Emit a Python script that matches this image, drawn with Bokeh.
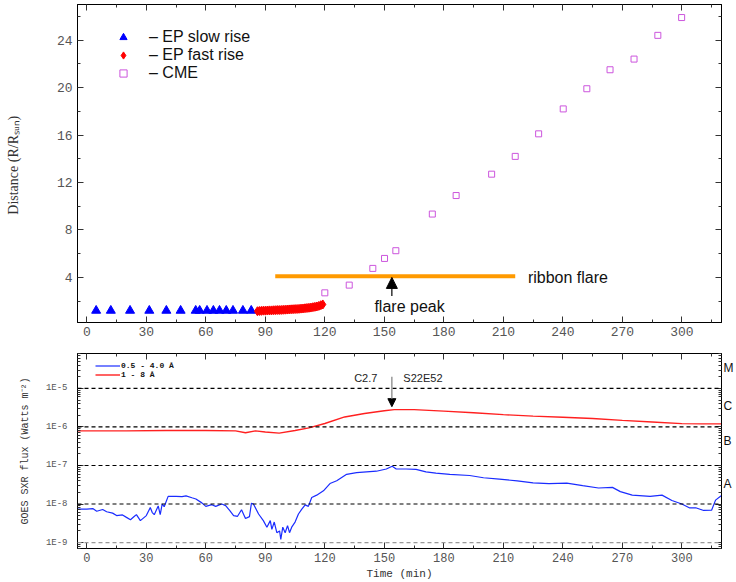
from bokeh.plotting import figure
from bokeh.models import (Range1d, LinearAxis, LogAxis, FixedTicker, Span, Label,
                          Arrow, NormalHead, Legend, LegendItem, CustomJSTickFormatter)
from bokeh.layouts import column
from bokeh.embed import file_html
from bokeh.resources import INLINE

# ---------------- data: top panel (distance vs time) ----------------
ep_slow_t = [4.7, 12.1, 21.8, 31.5, 40.1, 47.3, 54.9, 56.9, 60.6, 63.8, 66.9, 70.3, 73.7, 78.7, 82.9]
ep_slow_d = [1.2, 1.2, 1.2, 1.2, 1.2, 1.2, 1.2, 1.2, 1.2, 1.2, 1.2, 1.2, 1.2, 1.2, 1.2]

ep_fast_t = [86, 87, 88, 89, 90, 91, 92, 93, 94, 95, 96, 97, 98, 99, 100, 101, 102,
             103, 104, 105, 106, 107, 108, 109, 110, 111, 112, 113, 114, 115, 116, 117, 118, 119]
ep_fast_d = [1.15, 1.17, 1.18, 1.2, 1.2, 1.21, 1.22, 1.22, 1.23, 1.24, 1.25, 1.25, 1.26, 1.27,
             1.28, 1.29, 1.3, 1.31, 1.32, 1.33, 1.34, 1.35, 1.37, 1.38, 1.4, 1.42, 1.44, 1.46,
             1.49, 1.52, 1.55, 1.6, 1.66, 1.72]

cme_t = [120.0, 132.3, 144.2, 150.1, 155.8, 174.2, 186.2, 204.1, 216.0, 227.8, 240.2,
         252.1, 263.8, 275.9, 287.9, 299.9]
cme_d = [2.7, 3.35, 4.76, 5.6, 6.25, 9.34, 10.9, 12.7, 14.2, 16.1, 18.2, 19.9, 21.5,
         22.4, 24.4, 25.9]

ribbon_t = [95, 216]
ribbon_d = [4.1, 4.1]
flare_peak_t = 153.8

# ---------------- data: bottom panel (GOES SXR flux) ----------------
goes_short_t = [-5, 0, 3, 5, 8, 10, 13, 15, 18, 20, 22, 24, 25, 27, 30, 32, 33, 34, 36, 37,
                38, 39, 41, 45, 48, 50, 53, 55, 58, 60, 63, 65, 68, 70, 72, 74, 76, 78, 80,
                82, 83, 84, 86.6, 89, 90.8, 92.5, 93.3, 94.5, 95.8, 97.2, 97.8, 98.8, 100,
                101.2, 102.2, 103.3, 105, 106.7, 108.4, 110.1, 111.7, 113.4, 115.9, 119.3,
                122.6, 126, 131, 136, 141, 146, 151, 154, 156, 161, 166, 171, 176, 183,
                193, 200, 208, 217, 225, 233, 242, 250, 258, 265, 269, 275, 284, 290, 295,
                300, 304, 307, 311, 315, 317, 320]
goes_short_f = [7.4e-9, 7.4e-9, 7.6e-9, 6.5e-9, 7.2e-9, 6.3e-9, 5.8e-9, 5.0e-9, 5.2e-9,
                4.5e-9, 3.9e-9, 4.8e-9, 5.3e-9, 3.7e-9, 5.0e-9, 8.1e-9, 6.0e-9, 5.3e-9,
                8.9e-9, 5.3e-9, 1.0e-8, 8.5e-9, 1.58e-8, 1.58e-8, 1.55e-8, 1.62e-8, 1.45e-8,
                1.35e-8, 1.07e-8, 8.7e-9, 9.6e-9, 8.7e-9, 1.0e-8, 9.1e-9, 6.8e-9, 5.0e-9,
                4.8e-9, 7.1e-9, 4.2e-9, 4.7e-9, 1.05e-8, 1.0e-8, 5.5e-9, 3.7e-9, 2.5e-9,
                3.7e-9, 2.2e-9, 3.4e-9, 1.8e-9, 2.0e-9, 1.2e-9, 2.5e-9, 1.8e-9, 2.75e-9,
                1.8e-9, 2.5e-9, 3.4e-9, 5.5e-9, 7.4e-9, 9.5e-9, 8.7e-9, 1.48e-8, 1.7e-8,
                2.2e-8, 3.4e-8, 4.0e-8, 5.9e-8, 6.5e-8, 6.8e-8, 7.1e-8, 8.1e-8, 9.6e-8,
                8.1e-8, 8.1e-8, 7.9e-8, 6.8e-8, 6.3e-8, 5.9e-8, 5.5e-8, 4.8e-8, 4.4e-8,
                4.0e-8, 3.55e-8, 3.4e-8, 3.5e-8, 3.0e-8, 2.6e-8, 2.7e-8, 2.1e-8, 1.7e-8,
                1.58e-8, 1.7e-8, 1.23e-8, 1.0e-8, 7.9e-9, 8.0e-9, 6.8e-9, 6.9e-9, 1.26e-8,
                1.66e-8]

goes_long_t = [-5, 0, 20, 40, 60, 75, 80, 85, 90, 97, 105, 112, 120, 130, 140, 150, 155,
               165, 180, 195, 210, 225, 240, 255, 270, 285, 300, 310, 320]
goes_long_f = [7.9e-7, 7.9e-7, 7.9e-7, 8.1e-7, 8.1e-7, 7.9e-7, 7.1e-7, 7.9e-7, 7.4e-7,
               6.9e-7, 8.1e-7, 9.5e-7, 1.23e-6, 1.82e-6, 2.24e-6, 2.63e-6, 2.82e-6, 2.82e-6,
               2.57e-6, 2.34e-6, 2.09e-6, 1.91e-6, 1.78e-6, 1.66e-6, 1.48e-6, 1.35e-6,
               1.22e-6, 1.2e-6, 1.2e-6]

flux_levels = [1e-5, 1e-6, 1e-7, 1e-8, 1e-9]
class_labels = ["M", "C", "B", "A"]
class_y = [3.4e-5, 3.5e-6, 4.3e-7, 3.3e-8]

x_major = [0, 30, 60, 90, 120, 150, 180, 210, 240, 270, 300]
x_minor = [15, 45, 75, 105, 135, 165, 195, 225, 255, 285, 315]

TICK_FONT = "Liberation Mono"
TICK_COLOR = "#555555"


def style_axis(ax, font_size, show_labels=True):
    ax.axis_line_color = "black"
    ax.major_tick_line_color = "#333333"
    ax.minor_tick_line_color = "#333333"
    ax.major_tick_in = 6
    ax.major_tick_out = 0
    ax.minor_tick_in = 3
    ax.minor_tick_out = 0
    ax.major_label_text_font = TICK_FONT
    ax.major_label_text_color = TICK_COLOR
    ax.major_label_text_font_size = font_size
    if not show_labels:
        ax.major_label_standoff = 0
        ax.axis_label = None
        ax.formatter = CustomJSTickFormatter(code="return '';")


# ---------------- top figure ----------------
p1 = figure(width=736, height=346, x_range=Range1d(-4.7, 320), y_range=Range1d(0.2, 27),
            output_backend="svg", toolbar_location=None,
            min_border_left=77, min_border_right=14, min_border_top=4, min_border_bottom=24)
p1.xgrid.visible = False
p1.ygrid.visible = False
p1.outline_line_color = "black"
p1.background_fill_color = "white"

p1.xaxis.ticker = FixedTicker(ticks=x_major, minor_ticks=x_minor)
p1.yaxis.ticker = FixedTicker(ticks=[4, 8, 12, 16, 20, 24], minor_ticks=[2, 6, 10, 14, 18, 22, 26])
for ax in p1.xaxis:
    style_axis(ax, "13px")
    ax.major_label_standoff = 4
for ax in p1.yaxis:
    style_axis(ax, "13px")
    ax.major_label_standoff = 5
    ax.axis_label = "Distance  (R/R\u209b\u1d64\u2099)"
    ax.axis_label_text_font = "Liberation Serif"
    ax.axis_label_text_font_style = "normal"
    ax.axis_label_text_font_size = "14px"
    ax.axis_label_text_color = "#333333"
    ax.axis_label_standoff = 33

ax_top1 = LinearAxis(ticker=FixedTicker(ticks=x_major, minor_ticks=x_minor))
style_axis(ax_top1, "1px", show_labels=False)
p1.add_layout(ax_top1, "above")
ax_right1 = LinearAxis(ticker=FixedTicker(ticks=[4, 8, 12, 16, 20, 24],
                                          minor_ticks=[2, 6, 10, 14, 18, 22, 26]))
style_axis(ax_right1, "1px", show_labels=False)
p1.add_layout(ax_right1, "right")

# ribbon flare line
p1.line(ribbon_t, ribbon_d, line_color="#ff9a00", line_width=4)

r_slow = p1.scatter(ep_slow_t, ep_slow_d, marker="triangle", size=9,
                    fill_color="#0000ff", line_color="#0000ff")
r_fast = p1.scatter(ep_fast_t, ep_fast_d, marker="diamond", size=9,
                    fill_color="#ff0000", line_color="#ff0000")
r_cme = p1.scatter(cme_t, cme_d, marker="square", size=6, fill_color=None,
                   line_color="#cc55dd", line_width=1.0)

p1.add_layout(Label(x=222.4, y=4.0, text="ribbon flare", text_font="Liberation Sans",
                    text_font_size="16px", text_color="#111111", text_baseline="alphabetic"))
p1.add_layout(Label(x=145, y=1.53, text="flare peak", text_font="Liberation Sans",
                    text_font_size="16px", text_color="#111111", text_baseline="alphabetic"))
p1.add_layout(Arrow(x_start=flare_peak_t, y_start=2.43, x_end=flare_peak_t, y_end=4.0,
                    line_color="black", line_width=1.2,
                    end=NormalHead(size=11, fill_color="black", line_color="black")))

leg1 = Legend(items=[LegendItem(label="\u2013 EP slow rise", renderers=[r_slow]),
                     LegendItem(label="\u2013 EP fast rise", renderers=[r_fast]),
                     LegendItem(label="\u2013 CME", renderers=[r_cme])],
              location=(36, 240), padding=0, margin=0, spacing=0,
              glyph_width=20, glyph_height=18, label_height=18, label_standoff=16,
              label_text_font="Liberation Sans", label_text_font_size="16px",
              label_text_color="#111111", border_line_alpha=0, background_fill_alpha=0)
p1.add_layout(leg1)

# ---------------- bottom figure ----------------
p2 = figure(width=736, height=236, x_range=Range1d(-4.7, 320), y_range=Range1d(7.0e-10, 8.07e-5),
            y_axis_type="log", output_backend="svg", toolbar_location=None,
            min_border_left=77, min_border_right=14, min_border_top=7, min_border_bottom=34)
p2.xgrid.visible = False
p2.ygrid.visible = False
p2.outline_line_color = "black"

log_minor = []
for e in range(-10, -3):
    for k in range(2, 10):
        log_minor.append(k * 10.0 ** e)

p2.xaxis.ticker = FixedTicker(ticks=x_major, minor_ticks=x_minor)
for ax in p2.xaxis:
    style_axis(ax, "12px")
    ax.major_label_standoff = 4
    ax.axis_label = "Time (min)"
    ax.axis_label_text_font = "Liberation Mono"
    ax.axis_label_text_font_style = "normal"
    ax.axis_label_text_font_size = "11px"
    ax.axis_label_text_color = "#333333"
    ax.axis_label_standoff = 3
p2.yaxis.ticker = FixedTicker(ticks=flux_levels, minor_ticks=log_minor)
p2.yaxis.formatter = CustomJSTickFormatter(code="return '1E' + Math.round(Math.log10(tick));")
for ax in p2.yaxis:
    style_axis(ax, "9px")
    ax.major_label_standoff = 10
    ax.axis_label = "GOES SXR flux (Watts m\u207b\u00b2)"
    ax.axis_label_text_font = "Liberation Mono"
    ax.axis_label_text_font_style = "normal"
    ax.axis_label_text_font_size = "10px"
    ax.axis_label_text_color = "#333333"
    ax.axis_label_standoff = 12

ax_top2 = LinearAxis(ticker=FixedTicker(ticks=x_major, minor_ticks=x_minor))
style_axis(ax_top2, "1px", show_labels=False)
p2.add_layout(ax_top2, "above")
ax_right2 = LogAxis(ticker=FixedTicker(ticks=flux_levels, minor_ticks=log_minor))
style_axis(ax_right2, "1px", show_labels=False)
p2.add_layout(ax_right2, "right")

# GOES class letters as labels of an extra right axis
ax_class = LogAxis(ticker=FixedTicker(ticks=class_y))
ax_class.formatter = CustomJSTickFormatter(
    args=dict(vals=class_y, labs=class_labels),
    code="""
let best = 0, bd = 1e9;
for (let i = 0; i < vals.length; i++) {
  const d = Math.abs(Math.log10(vals[i]) - Math.log10(tick));
  if (d < bd) { bd = d; best = i; }
}
return labs[best];
""")
ax_class.axis_line_color = None
ax_class.major_tick_line_color = None
ax_class.minor_tick_line_color = None
ax_class.major_tick_in = 0
ax_class.major_tick_out = 0
ax_class.major_label_standoff = 2
ax_class.major_label_text_font = "Liberation Sans"
ax_class.major_label_text_font_size = "12px"
ax_class.major_label_text_color = "#111111"
p2.add_layout(ax_class, "right")

for lv in flux_levels:
    p2.add_layout(Span(location=lv, dimension="width",
                       line_color="#999999" if lv == 1e-9 else "black",
                       line_dash="4 3", line_width=1.2))

r_short = p2.line(goes_short_t, goes_short_f, line_color="#1a2cff", line_width=1.2)
r_long = p2.line(goes_long_t, goes_long_f, line_color="#ff2020", line_width=1.4)

p2.add_layout(Label(x=134.8, y=1.86e-5, text="C2.7", text_font="Liberation Sans",
                    text_font_size="11px", text_color="#222222", text_baseline="alphabetic"))
p2.add_layout(Label(x=159.6, y=1.86e-5, text="S22E52", text_font="Liberation Sans",
                    text_font_size="11px", text_color="#222222", text_baseline="alphabetic"))
p2.add_layout(Arrow(x_start=flare_peak_t, y_start=2.0e-5, x_end=flare_peak_t, y_end=3.36e-6,
                    line_color="#888888", line_width=1.3,
                    end=NormalHead(size=8, fill_color="black", line_color="black")))

leg_a = Legend(items=[LegendItem(label="0.5 - 4.0 \u00c5", renderers=[r_short])],
               location=(18, 178), padding=0, margin=0, spacing=0,
               glyph_width=25, glyph_height=9, label_height=9, label_standoff=1,
               label_text_font="Liberation Mono", label_text_font_size="8px",
               label_text_font_style="bold",
               label_text_color="#111111", border_line_alpha=0, background_fill_alpha=0)
leg_b = Legend(items=[LegendItem(label="1 - 8 \u00c5", renderers=[r_long])],
               location=(18, 169), padding=0, margin=0, spacing=0,
               glyph_width=25, glyph_height=9, label_height=9, label_standoff=1,
               label_text_font="Liberation Mono", label_text_font_size="8px",
               label_text_font_style="bold",
               label_text_color="#111111", border_line_alpha=0, background_fill_alpha=0)
p2.add_layout(leg_a)
p2.add_layout(leg_b)

layout = column(p1, p2, spacing=0)
open("out.html", "w").write(file_html(layout, INLINE))
